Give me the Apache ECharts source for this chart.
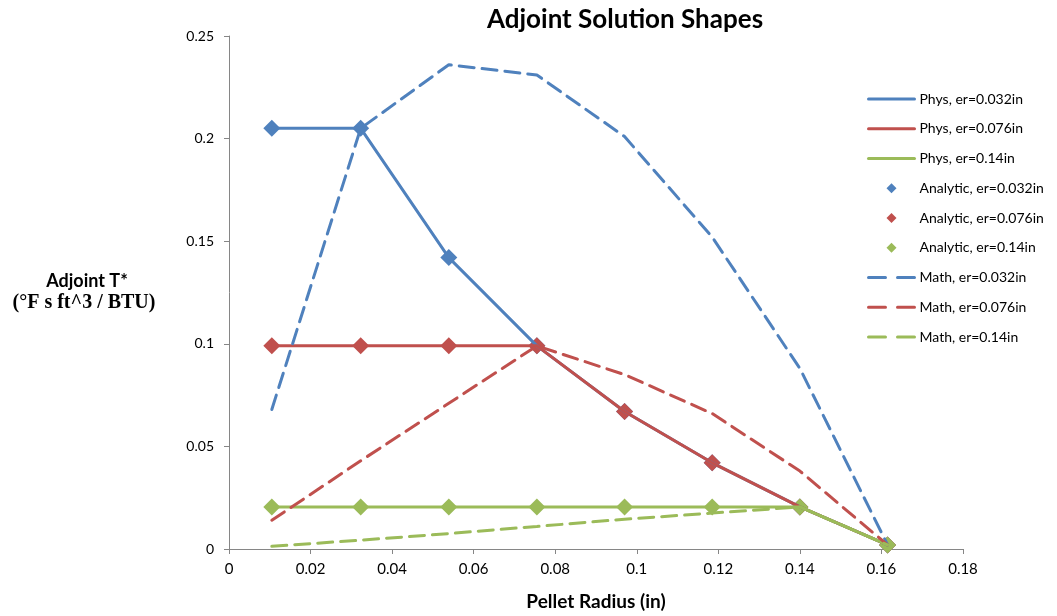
<!DOCTYPE html>
<html>
<head>
<meta charset="utf-8">
<script src="https://cdn.jsdelivr.net/npm/echarts@6/dist/echarts.min.js"></script>
<style>
  html, body { margin: 0; padding: 0; background: #fff; }
  #main { width: 1057px; height: 616px; }
</style>
</head>
<body>
<div id="main"></div>
<script>
var radius = [0.0105, 0.0323, 0.0539, 0.0755, 0.0970, 0.1185, 0.1400, 0.1615];

var phys032 = [0.205, 0.205, 0.142, 0.099, 0.067, 0.042, 0.0205, 0.002];
var phys076 = [0.099, 0.099, 0.099, 0.099, 0.067, 0.042, 0.0205, 0.002];
var phys14 = [0.0205, 0.0205, 0.0205, 0.0205, 0.0205, 0.0205, 0.0205, 0.002];

var analytic032 = [0.205, 0.205, 0.142, 0.099, 0.067, 0.042, 0.0205, 0.002];
var analytic076 = [0.099, 0.099, 0.099, 0.099, 0.067, 0.042, 0.0205, 0.002];
var analytic14 = [0.0205, 0.0205, 0.0205, 0.0205, 0.0205, 0.0205, 0.0205, 0.002];

var math032 = [0.068, 0.205, 0.236, 0.231, 0.201, 0.152, 0.088, 0.002];
var math076 = [0.014, 0.043, 0.071, 0.099, 0.085, 0.066, 0.038, 0.002];
var math14 = [0.0013, 0.0043, 0.0075, 0.011, 0.0145, 0.0175, 0.0205, 0.002];

var seriesNames = [
    'Phys, er=0.032in', 'Phys, er=0.076in', 'Phys, er=0.14in',
    'Analytic, er=0.032in', 'Analytic, er=0.076in', 'Analytic, er=0.14in',
    'Math, er=0.032in', 'Math, er=0.076in', 'Math, er=0.14in'
];

var blue = '#4F81BD', red = '#C0504D', green = '#9BBB59';
var dash = [15, 8];

function pairs(ys) {
    return radius.map(function (x, i) { return [x, ys[i]]; });
}

function physLine(name, ys, color) {
    return {
        name: name, type: 'line', data: pairs(ys),
        symbol: 'none', lineStyle: { color: color, width: 3 },
        itemStyle: { color: color }
    };
}

function analyticDots(name, ys, color) {
    return {
        name: name, type: 'scatter', data: pairs(ys),
        symbol: 'diamond', symbolSize: 17,
        itemStyle: { color: color, opacity: 1 }
    };
}

function mathLine(name, ys, color) {
    return {
        name: name, type: 'line', data: pairs(ys),
        symbol: 'none', lineStyle: { color: color, width: 3, type: dash, cap: 'round' },
        itemStyle: { color: color }
    };
}

// small diamond centred in the 46x12 legend box (corner moves keep the box size)
var legendDiamond = 'path://M0,0 L0,0 M46,12 L46,12 M23,1 L28,6 L23,11 L18,6 Z';

var legendData = seriesNames.map(function (n) {
    if (n.indexOf('Analytic') === 0) {
        return { name: n, icon: legendDiamond };
    }
    var ls = { width: 3, cap: 'round' };
    if (n.indexOf('Math') === 0) ls.type = [17, 12];
    return { name: n, itemStyle: { color: 'rgba(0,0,0,0)', borderWidth: 0 }, lineStyle: ls };
});

var myChart = echarts.init(document.getElementById('main'));

var option = {
    animation: false,
    title: {
        text: 'Adjoint Solution Shapes',
        left: 620, top: 2, textAlign: 'center',
        textStyle: { fontFamily: 'Lato', fontWeight: 'bold', fontSize: 26, color: '#000' }
    },
    legend: {
        orient: 'vertical',
        left: 862, top: 87,
        itemWidth: 46, itemHeight: 12, itemGap: 15.75,
        data: legendData,
        textStyle: { fontFamily: 'Lato', fontSize: 14, color: '#000' }
    },
    grid: { left: 229, right: 94, top: 36, bottom: 64 },
    xAxis: {
        type: 'value', min: 0, max: 0.18, interval: 0.02,
        name: 'Pellet Radius (in)', nameLocation: 'middle', nameGap: 43,
        nameTextStyle: { fontFamily: 'Lato', fontWeight: 'bold', fontSize: 19, color: '#000' },
        axisLine: { lineStyle: { color: '#868686' } },
        axisTick: { show: true, length: 5, lineStyle: { color: '#868686' } },
        axisLabel: { fontFamily: 'Lato', fontSize: 15, color: '#000', margin: 13 },
        splitLine: { show: false }
    },
    yAxis: {
        type: 'value', min: 0, max: 0.25, interval: 0.05,
        axisLine: { show: true, lineStyle: { color: '#868686' } },
        axisTick: { show: true, length: 5, lineStyle: { color: '#868686' } },
        axisLabel: { fontFamily: 'Lato', fontSize: 14, color: '#000', margin: 15 },
        splitLine: { show: false }
    },
    graphic: [
        {
            type: 'text',
            style: {
                x: 87, y: 281, text: 'Adjoint T*', align: 'center', verticalAlign: 'middle',
                font: 'bold 18px Lato', fill: '#000'
            }
        },
        {
            type: 'text',
            style: {
                x: 84, y: 303, text: '(\u00B0F s ft^3 / BTU)', align: 'center', verticalAlign: 'middle',
                font: 'bold 20px "Liberation Serif"', fill: '#000'
            }
        }
    ],
    series: [
        physLine(seriesNames[0], phys032, blue),
        physLine(seriesNames[1], phys076, red),
        physLine(seriesNames[2], phys14, green),
        analyticDots(seriesNames[3], analytic032, blue),
        analyticDots(seriesNames[4], analytic076, red),
        analyticDots(seriesNames[5], analytic14, green),
        mathLine(seriesNames[6], math032, blue),
        mathLine(seriesNames[7], math076, red),
        mathLine(seriesNames[8], math14, green)
    ]
};

myChart.setOption(option);
</script>
</body>
</html>
